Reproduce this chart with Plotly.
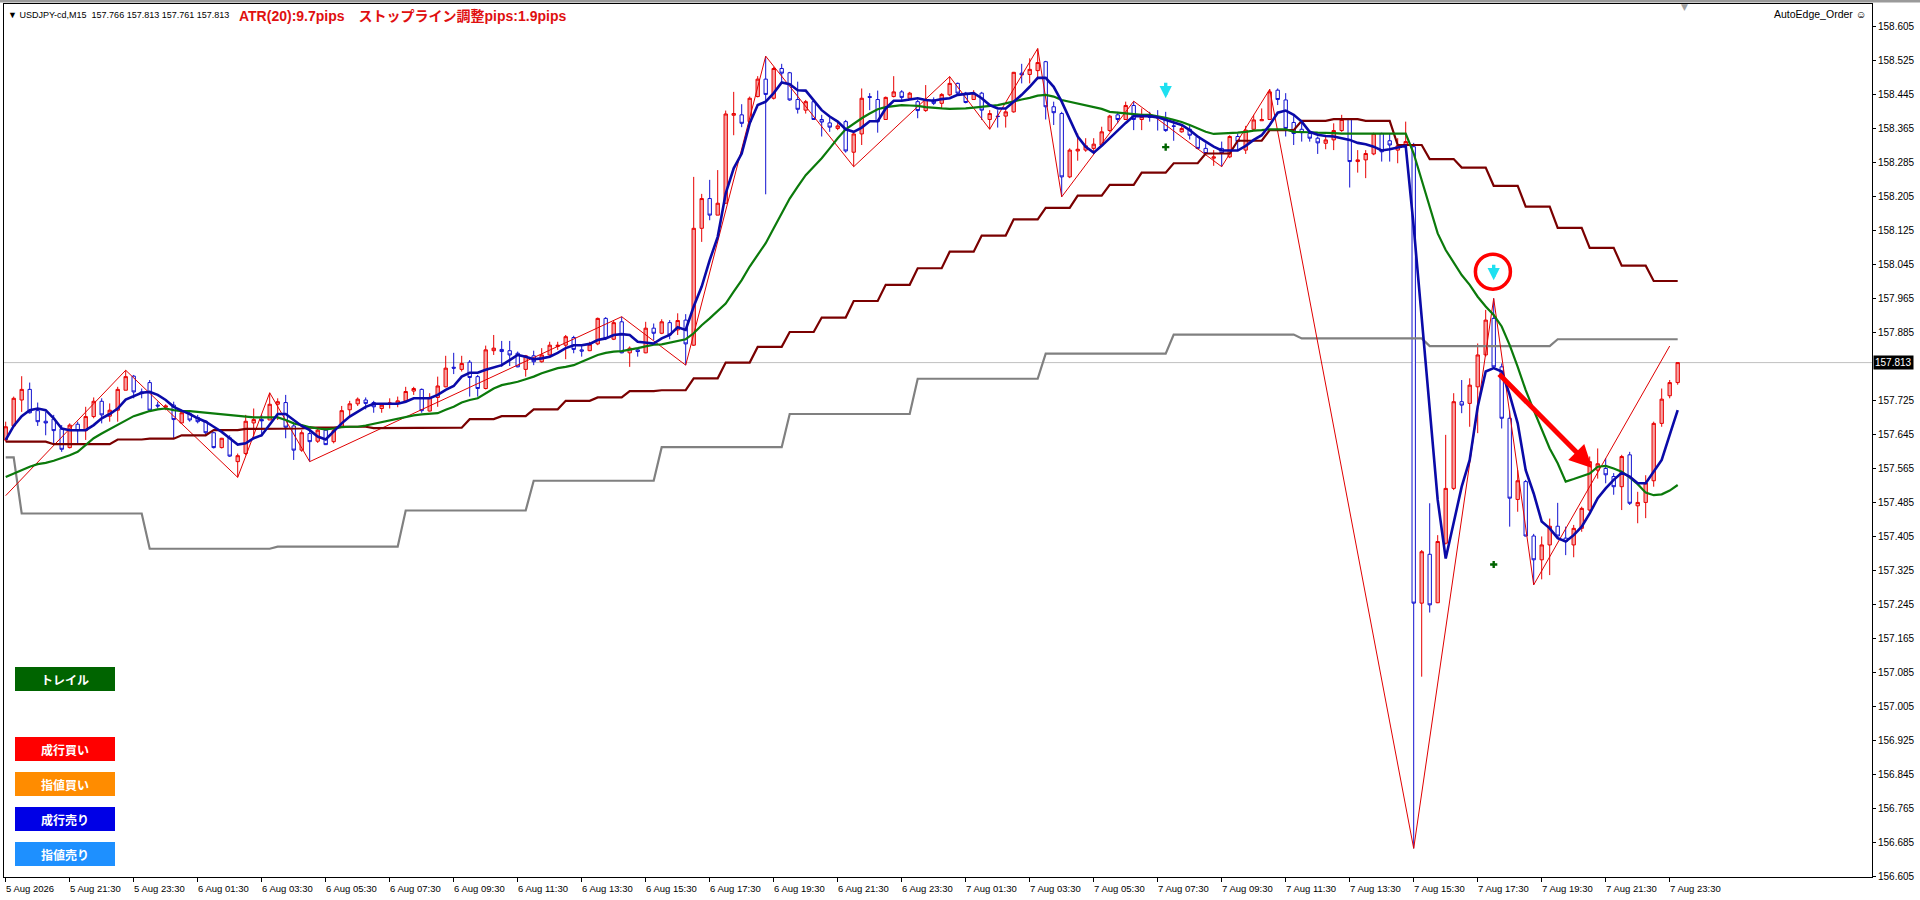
import plotly.graph_objects as go

# USDJPY M15, bar 0 = 5 Aug 2026 19:30, one bar every 15 minutes
opens = [
    157.631, 157.664, 157.725, 157.750, 157.700, 157.675, 157.680, 157.657, 157.613, 157.668,
    157.653, 157.686, 157.722, 157.687, 157.701, 157.748, 157.781, 157.744, 157.766, 157.713,
    157.708, 157.713, 157.671, 157.693, 157.684, 157.675, 157.648, 157.613, 157.636, 157.580,
    157.599, 157.671, 157.679, 157.678, 157.715, 157.719, 157.664, 157.607, 157.646, 157.628,
    157.654, 157.627, 157.662, 157.702, 157.716, 157.725, 157.719, 157.705, 157.716, 157.717,
    157.723, 157.746, 157.750, 157.699, 157.731, 157.756, 157.802, 157.797, 157.814, 157.780,
    157.752, 157.841, 157.844, 157.841, 157.835, 157.797, 157.829, 157.815, 157.831, 157.851,
    157.854, 157.872, 157.843, 157.841, 157.857, 157.917, 157.868, 157.909, 157.836, 157.843,
    157.836, 157.894, 157.882, 157.907, 157.890, 157.913, 157.854, 158.129, 158.199, 158.160,
    158.188, 158.395, 158.396, 158.380, 158.439, 158.480, 158.435, 158.505, 158.495, 158.432,
    158.407, 158.427, 158.385, 158.377, 158.364, 158.380, 158.308, 158.351, 158.439, 158.432,
    158.385, 158.439, 158.450, 158.435, 158.427, 158.406, 158.431, 158.423, 158.443, 158.470,
    158.447, 158.432, 158.447, 158.385, 158.393, 158.393, 158.403, 158.494, 158.491, 158.500,
    158.521, 158.415, 158.399, 158.250, 158.311, 158.313, 158.317, 158.325, 158.359, 158.396,
    158.385, 158.418, 158.385, 158.393, 158.392, 158.388, 158.370, 158.356, 158.362, 158.345,
    158.317, 158.294, 158.317, 158.297, 158.345, 158.313, 158.362, 158.382, 158.385, 158.454,
    158.431, 158.378, 158.362, 158.352, 158.341, 158.329, 158.337, 158.359, 158.385, 158.286,
    158.290, 158.304, 158.352, 158.335, 158.313, 158.323, 158.321, 157.247, 157.362, 157.248,
    157.388, 157.517, 157.721, 157.717, 157.756, 157.831, 157.917, 157.803, 157.682, 157.491,
    157.533, 157.405, 157.349, 157.384, 157.428, 157.400, 157.384, 157.423, 157.466, 157.560,
    157.564, 157.545, 157.521, 157.596, 157.476, 157.484, 157.535, 157.670, 157.735, 157.766,
]
highs = [
    157.674, 157.733, 157.781, 157.766, 157.719, 157.697, 157.690, 157.666, 157.670, 157.674,
    157.709, 157.731, 157.729, 157.717, 157.756, 157.795, 157.784, 157.752, 157.772, 157.721,
    157.715, 157.721, 157.701, 157.697, 157.690, 157.678, 157.650, 157.636, 157.642, 157.599,
    157.690, 157.705, 157.690, 157.742, 157.729, 157.737, 157.670, 157.654, 157.654, 157.658,
    157.658, 157.658, 157.711, 157.723, 157.731, 157.731, 157.723, 157.717, 157.729, 157.733,
    157.756, 157.756, 157.752, 157.741, 157.780, 157.829, 157.836, 157.829, 157.819, 157.784,
    157.853, 157.878, 157.864, 157.864, 157.839, 157.831, 157.841, 157.847, 157.862, 157.862,
    157.878, 157.876, 157.854, 157.862, 157.919, 157.920, 157.912, 157.921, 157.851, 157.847,
    157.909, 157.905, 157.915, 157.913, 157.929, 157.927, 158.250, 158.210, 158.243, 158.266,
    158.406, 158.450, 158.421, 158.439, 158.487, 158.534, 158.509, 158.516, 158.497, 158.474,
    158.431, 158.431, 158.396, 158.390, 158.380, 158.384, 158.354, 158.458, 158.447, 158.453,
    158.439, 158.487, 158.454, 158.450, 158.431, 158.466, 158.437, 158.447, 158.486, 158.472,
    158.450, 158.454, 158.450, 158.407, 158.407, 158.411, 158.497, 158.516, 158.529, 158.552,
    158.523, 158.427, 158.403, 158.317, 158.352, 158.341, 158.341, 158.368, 158.396, 158.403,
    158.427, 158.428, 158.411, 158.403, 158.407, 158.403, 158.384, 158.370, 158.372, 158.348,
    158.329, 158.313, 158.333, 158.348, 158.352, 158.370, 158.396, 158.411, 158.456, 158.458,
    158.447, 158.393, 158.382, 158.360, 158.345, 158.345, 158.376, 158.396, 158.385, 158.313,
    158.313, 158.354, 158.354, 158.352, 158.341, 158.380, 158.330, 157.372, 157.482, 157.407,
    157.643, 157.741, 157.772, 157.776, 157.858, 157.937, 157.964, 157.811, 157.700, 157.560,
    157.537, 157.410, 157.404, 157.446, 157.483, 157.427, 157.431, 157.474, 157.592, 157.611,
    157.588, 157.553, 157.596, 157.603, 157.509, 157.548, 157.674, 157.752, 157.772, 157.813,
]
lows = [
    157.627, 157.661, 157.697, 157.693, 157.664, 157.642, 157.623, 157.603, 157.611, 157.623,
    157.631, 157.682, 157.670, 157.674, 157.674, 157.748, 157.729, 157.729, 157.697, 157.705,
    157.701, 157.635, 157.670, 157.674, 157.670, 157.642, 157.611, 157.611, 157.591, 157.543,
    157.595, 157.639, 157.639, 157.678, 157.678, 157.635, 157.584, 157.603, 157.580, 157.624,
    157.619, 157.623, 157.661, 157.687, 157.711, 157.703, 157.695, 157.695, 157.705, 157.708,
    157.721, 157.737, 157.695, 157.698, 157.709, 157.755, 157.786, 157.792, 157.733, 157.733,
    157.750, 157.831, 157.803, 157.805, 157.802, 157.780, 157.807, 157.813, 157.829, 157.843,
    157.821, 157.835, 157.827, 157.840, 157.854, 157.866, 157.866, 157.835, 157.803, 157.827,
    157.835, 157.866, 157.880, 157.868, 157.878, 157.807, 157.852, 158.097, 158.148, 158.160,
    158.186, 158.348, 158.367, 158.376, 158.437, 158.209, 158.432, 158.470, 158.429, 158.399,
    158.399, 158.384, 158.345, 158.356, 158.360, 158.307, 158.274, 158.325, 158.407, 158.354,
    158.384, 158.437, 158.431, 158.432, 158.388, 158.403, 158.419, 158.411, 158.440, 158.443,
    158.423, 158.431, 158.384, 158.362, 158.366, 158.366, 158.401, 158.470, 158.470, 158.479,
    158.385, 158.372, 158.203, 158.247, 158.288, 158.309, 158.309, 158.323, 158.356, 158.376,
    158.384, 158.360, 158.360, 158.380, 158.359, 158.356, 158.335, 158.354, 158.338, 158.315,
    158.301, 158.276, 158.274, 158.294, 158.313, 158.304, 158.360, 158.382, 158.384, 158.419,
    158.345, 158.325, 158.333, 158.333, 158.304, 158.315, 158.313, 158.356, 158.225, 158.260,
    158.247, 158.301, 158.286, 158.286, 158.282, 158.321, 156.670, 157.074, 157.225, 157.247,
    157.385, 157.513, 157.694, 157.662, 157.647, 157.827, 157.799, 157.658, 157.427, 157.462,
    157.404, 157.290, 157.303, 157.313, 157.400, 157.360, 157.355, 157.415, 157.462, 157.540,
    157.529, 157.502, 157.466, 157.478, 157.435, 157.447, 157.521, 157.662, 157.729, 157.761,
]
closes = [
    157.662, 157.729, 157.750, 157.695, 157.674, 157.671, 157.653, 157.609, 157.666, 157.653,
    157.686, 157.722, 157.690, 157.701, 157.750, 157.780, 157.744, 157.740, 157.701, 157.711,
    157.711, 157.679, 157.695, 157.678, 157.674, 157.648, 157.613, 157.635, 157.593, 157.594,
    157.675, 157.679, 157.676, 157.715, 157.721, 157.661, 157.607, 157.648, 157.627, 157.654,
    157.620, 157.653, 157.700, 157.716, 157.727, 157.717, 157.709, 157.713, 157.718, 157.723,
    157.745, 157.752, 157.700, 157.731, 157.758, 157.800, 157.800, 157.811, 157.778, 157.752,
    157.843, 157.847, 157.839, 157.831, 157.803, 157.829, 157.815, 157.831, 157.854, 157.854,
    157.874, 157.844, 157.840, 157.856, 157.917, 157.870, 157.907, 157.836, 157.847, 157.839,
    157.894, 157.882, 157.909, 157.878, 157.912, 157.857, 158.129, 158.199, 158.160, 158.188,
    158.398, 158.399, 158.376, 158.435, 158.480, 158.444, 158.505, 158.494, 158.431, 158.409,
    158.427, 158.385, 158.379, 158.367, 158.370, 158.311, 158.351, 158.435, 158.437, 158.380,
    158.437, 158.450, 158.437, 158.447, 158.406, 158.432, 158.423, 158.444, 158.470, 158.447,
    158.425, 158.447, 158.407, 158.399, 158.392, 158.403, 158.496, 158.490, 158.503, 158.519,
    158.415, 158.401, 158.250, 158.313, 158.315, 158.323, 158.327, 158.356, 158.393, 158.385,
    158.418, 158.385, 158.392, 158.390, 158.391, 158.359, 158.369, 158.364, 158.348, 158.317,
    158.305, 158.297, 158.305, 158.345, 158.333, 158.360, 158.384, 158.385, 158.450, 158.432,
    158.364, 158.352, 158.354, 158.341, 158.330, 158.337, 158.359, 158.385, 158.286, 158.290,
    158.305, 158.352, 158.309, 158.325, 158.323, 158.333, 157.247, 157.368, 157.243, 157.392,
    157.517, 157.721, 157.713, 157.760, 157.831, 157.913, 157.803, 157.682, 157.494, 157.535,
    157.405, 157.349, 157.384, 157.428, 157.405, 157.392, 157.423, 157.470, 157.580, 157.575,
    157.549, 157.521, 157.592, 157.482, 157.484, 157.530, 157.670, 157.727, 157.766, 157.813,
]

# fast moving average (blue)
fast_ma = [
    157.631, 157.664, 157.687, 157.701, 157.705, 157.701, 157.682, 157.658, 157.654, 157.654,
    157.654, 157.666, 157.682, 157.692, 157.705, 157.726, 157.734, 157.742, 157.744, 157.737,
    157.725, 157.709, 157.700, 157.692, 157.682, 157.674, 157.662, 157.650, 157.635, 157.620,
    157.623, 157.635, 157.642, 157.666, 157.692, 157.692, 157.678, 157.664, 157.654, 157.639,
    157.632, 157.651, 157.670, 157.686, 157.698, 157.709, 157.716, 157.716, 157.716, 157.716,
    157.721, 157.729, 157.729, 157.729, 157.737, 157.749, 157.758, 157.780, 157.789, 157.789,
    157.796, 157.802, 157.807, 157.819, 157.831, 157.827, 157.821, 157.823, 157.827, 157.836,
    157.847, 157.854, 157.854, 157.857, 157.866, 157.870, 157.878, 157.880, 157.878, 157.862,
    157.860, 157.858, 157.870, 157.878, 157.896, 157.890, 157.945, 157.992, 158.054, 158.109,
    158.211, 158.270, 158.305, 158.376, 158.419, 158.427, 158.447, 158.472, 158.468, 158.454,
    158.453, 158.431, 158.407, 158.392, 158.380, 158.362, 158.356, 158.366, 158.381, 158.381,
    158.411, 158.429, 158.429, 158.432, 158.435, 158.431, 158.429, 158.433, 158.435, 158.443,
    158.445, 158.447, 158.435, 158.419, 158.411, 158.411, 158.427, 158.443, 158.462, 158.483,
    158.483, 158.462, 158.427, 158.384, 158.345, 158.321, 158.307, 158.323, 158.341, 158.360,
    158.377, 158.393, 158.393, 158.393, 158.390, 158.384, 158.377, 158.372, 158.360, 158.345,
    158.333, 158.321, 158.312, 158.312, 158.312, 158.323, 158.337, 158.348, 158.372, 158.401,
    158.406, 158.396, 158.380, 158.356, 158.349, 158.346, 158.345, 158.341, 158.337, 158.330,
    158.327, 158.321, 158.312, 158.315, 158.319, 158.323, 158.133, 157.913, 157.701, 157.490,
    157.352, 157.435, 157.521, 157.584, 157.709, 157.792, 157.800, 157.792, 157.737, 157.670,
    157.560, 157.505, 157.439, 157.423, 157.400, 157.392, 157.407, 157.427, 157.458, 157.494,
    157.517, 157.537, 157.554, 157.545, 157.529, 157.529, 157.556, 157.584, 157.643, 157.701,
]

# slow moving average (green)
slow_ma = [
    157.544, 157.552, 157.560, 157.568, 157.574, 157.577, 157.582, 157.588, 157.595, 157.603,
    157.619, 157.635, 157.646, 157.656, 157.666, 157.676, 157.687, 157.693, 157.699, 157.703,
    157.705, 157.701, 157.699, 157.699, 157.697, 157.696, 157.693, 157.692, 157.690, 157.687,
    157.686, 157.684, 157.684, 157.684, 157.684, 157.678, 157.670, 157.666, 157.661, 157.658,
    157.656, 157.658, 157.661, 157.662, 157.662, 157.665, 157.669, 157.673, 157.678, 157.682,
    157.686, 157.689, 157.691, 157.692, 157.694, 157.702, 157.709, 157.719, 157.725, 157.729,
    157.741, 157.752, 157.760, 157.764, 157.768, 157.774, 157.780, 157.788, 157.794, 157.800,
    157.803, 157.807, 157.815, 157.823, 157.831, 157.836, 157.839, 157.840, 157.843, 157.847,
    157.851, 157.855, 157.856, 157.860, 157.865, 157.868, 157.882, 157.901, 157.917, 157.935,
    157.952, 157.980, 158.007, 158.039, 158.066, 158.094, 158.129, 158.164, 158.199, 158.227,
    158.254, 158.274, 158.294, 158.317, 158.341, 158.362, 158.376, 158.388, 158.399, 158.409,
    158.414, 158.417, 158.419, 158.418, 158.417, 158.414, 158.412, 158.411, 158.410, 158.410,
    158.411, 158.413, 158.415, 158.417, 158.419, 158.423, 158.428, 158.432, 158.436, 158.441,
    158.443, 158.439, 158.431, 158.427, 158.423, 158.419, 158.415, 158.410, 158.403, 158.401,
    158.399, 158.398, 158.396, 158.396, 158.393, 158.389, 158.384, 158.379, 158.372, 158.364,
    158.356, 158.351, 158.352, 158.352, 158.354, 158.356, 158.359, 158.360, 158.362, 158.362,
    158.362, 158.356, 158.356, 158.355, 158.354, 158.354, 158.353, 158.352, 158.352, 158.352,
    158.352, 158.352, 158.352, 158.352, 158.352, 158.352, 158.305, 158.243, 158.176, 158.117,
    158.078, 158.047, 158.019, 157.996, 157.968, 157.945, 157.925, 157.898, 157.854, 157.803,
    157.748, 157.701, 157.654, 157.611, 157.576, 157.533, 157.539, 157.545, 157.552, 157.568,
    157.570, 157.564, 157.556, 157.543, 157.527, 157.507, 157.501, 157.503, 157.512, 157.525,
]

# hourly stop line (dark red), first entry = 19:00 hour
hourly_stop = [
    157.627, 157.627, 157.621, 157.621, 157.632, 157.634, 157.642, 157.654, 157.657, 157.658,
    157.660, 157.662, 157.659, 157.659, 157.660, 157.680, 157.687, 157.703, 157.723, 157.731,
    157.746, 157.748, 157.776, 157.813, 157.850, 157.885, 157.919, 157.958, 157.996, 158.035,
    158.074, 158.112, 158.150, 158.177, 158.206, 158.231, 158.260, 158.282, 158.305, 158.335,
    158.360, 158.382, 158.386, 158.382, 158.325, 158.292, 158.272, 158.229, 158.180, 158.130,
    158.083, 158.041, 158.005,
]

# 4-hour stop line (grey), first entry = 16:00 block
h4_stop = [
    157.590, 157.458, 157.375, 157.380, 157.465, 157.535, 157.614, 157.692, 157.775, 157.834,
    157.879, 157.870, 157.852, 157.868,
]

# zigzag pivots (bar, price)
zz_bars = [0, 15, 29, 33, 38, 77, 85, 95, 106, 118, 123, 129, 132, 141, 152, 158, 176, 186, 191, 208]
zz_prices = [157.500, 157.795, 157.543, 157.742, 157.580, 157.921, 157.807, 158.534, 158.274, 158.486,
             158.362, 158.552, 158.203, 158.428, 158.274, 158.456, 156.670, 157.964, 157.290, 157.852]

# sell signals: arrow tip price and dot price
sig_bars = [145, 186]
sig_arrow_prices = [158.435, 158.007]
sig_dot_prices = [158.320, 157.338]
circled_bar = 185.9
circled_price = 158.027
trend_arrow_from = (186.5, 157.789)
trend_arrow_to = (198.3, 157.565)

date_labels = [
    "5 Aug 2026", "5 Aug 21:30", "5 Aug 23:30", "6 Aug 01:30", "6 Aug 03:30", "6 Aug 05:30",
    "6 Aug 07:30", "6 Aug 09:30", "6 Aug 11:30", "6 Aug 13:30", "6 Aug 15:30", "6 Aug 17:30",
    "6 Aug 19:30", "6 Aug 21:30", "6 Aug 23:30", "7 Aug 01:30", "7 Aug 03:30", "7 Aug 05:30",
    "7 Aug 07:30", "7 Aug 09:30", "7 Aug 11:30", "7 Aug 13:30", "7 Aug 15:30", "7 Aug 17:30",
    "7 Aug 19:30", "7 Aug 21:30", "7 Aug 23:30",
]
price_labels = [
    "158.605", "158.525", "158.445", "158.365", "158.285", "158.205", "158.125", "158.045",
    "157.965", "157.885", "157.725", "157.645", "157.565", "157.485", "157.405", "157.325",
    "157.245", "157.165", "157.085", "157.005", "156.925", "156.845", "156.765", "156.685",
    "156.605",
]

button_labels = ["トレイル", "成行買い", "指値買い", "成行売り", "指値売り"]
button_colors = ["#006400", "#ff0000", "#ff8c00", "#0000e6", "#1e90ff"]

n = len(closes)
assert len(opens) == len(highs) == len(lows) == n == len(fast_ma) == len(slow_ma) == 210
bars = list(range(n))
hourly_line = [hourly_stop[(i + 2) // 4] for i in bars]
h4_line = [h4_stop[(i + 14) // 16] for i in bars]

# plot area in pixels: x 4..1872, y 4..877 ; 8 px per bar, 425 px per yen
W, H = 1920, 900
L, R, T, B = 4, 48, 4, 23
PW, PH = W - L - R, H - T - B
x_range = [-1.7 / 8, -1.7 / 8 + PW / 8]
y_top = 158.605 + 22 / 425
y_range = [y_top - PH / 425, y_top]


def px_x(x):
    return (x - L) / PW


def px_y(y):
    return 1 - (y - T) / PH


small = "Liberation Sans, Arial, sans-serif"

fig = go.Figure()

fig.add_trace(go.Candlestick(
    x=bars, open=opens, high=highs, low=lows, close=closes,
    increasing=dict(line=dict(color="#e80000", width=1), fillcolor="#f6a3a3"),
    decreasing=dict(line=dict(color="#1212d0", width=1), fillcolor="#ffffff"),
    whiskerwidth=0, showlegend=False, hoverinfo="skip",
))

fig.add_trace(go.Scatter(x=bars, y=h4_line, mode="lines",
                         line=dict(color="#808080", width=2.2), showlegend=False, hoverinfo="skip"))
fig.add_trace(go.Scatter(x=zz_bars, y=zz_prices, mode="lines",
                         line=dict(color="#e00000", width=1), showlegend=False, hoverinfo="skip"))
fig.add_trace(go.Scatter(x=bars, y=hourly_line, mode="lines",
                         line=dict(color="#7a0000", width=2.2), showlegend=False, hoverinfo="skip"))
fig.add_trace(go.Scatter(x=bars, y=slow_ma, mode="lines",
                         line=dict(color="#0b7a0b", width=2.2), showlegend=False, hoverinfo="skip"))
fig.add_trace(go.Scatter(x=bars, y=fast_ma, mode="lines",
                         line=dict(color="#0a0aa8", width=2.6), showlegend=False, hoverinfo="skip"))
fig.add_trace(go.Scatter(x=sig_bars, y=sig_dot_prices, mode="markers",
                         marker=dict(symbol="cross", size=6, color="#006400"),
                         showlegend=False, hoverinfo="skip"))

shapes = []
annotations = []

# current price line
shapes.append(dict(type="line", xref="paper", x0=0, x1=1, yref="y", y0=closes[-1], y1=closes[-1],
                   line=dict(color="#c0c0c0", width=1), layer="below"))

# red circle around the second signal
rx, ry = 17.5 / 8, 17.5 / 425
shapes.append(dict(type="circle", xref="x", yref="y",
                   x0=circled_bar - rx, x1=circled_bar + rx,
                   y0=circled_price - ry, y1=circled_price + ry,
                   line=dict(color="#ff0000", width=3.5)))

# cyan sell arrows
for b, p in zip(sig_bars, sig_arrow_prices):
    annotations.append(dict(x=b, y=p, xref="x", yref="y", text="", showarrow=True,
                            ax=0, ay=-17, arrowhead=2, arrowsize=0.72, arrowwidth=3.4,
                            arrowcolor="#1ee0f0"))

# red trend arrow
annotations.append(dict(x=trend_arrow_to[0], y=trend_arrow_to[1], xref="x", yref="y",
                        ax=trend_arrow_from[0], ay=trend_arrow_from[1], axref="x", ayref="y",
                        text="", showarrow=True, arrowhead=2, arrowsize=0.9, arrowwidth=5,
                        arrowcolor="#ff0000"))

# time labels under the axis
for k, lab in enumerate(date_labels):
    annotations.append(dict(x=k * 8, y=px_y(881), xref="x", yref="paper", text=lab,
                            showarrow=False, xanchor="left", yanchor="top", xshift=-2,
                            font=dict(family=small, size=9.5, color="black")))

# current price box on the price scale
annotations.append(dict(x=1, y=closes[-1], xref="paper", yref="y", text=f"{closes[-1]:.3f}",
                        showarrow=False, xanchor="left", yanchor="middle", bgcolor="#000000",
                        borderpad=1, xshift=1, font=dict(family=small, size=10, color="white")))

# header texts
annotations.append(dict(x=px_x(6), y=px_y(15), xref="paper", yref="paper",
                        text=f"▼ USDJPY-cd,M15  {opens[-1]:.3f} {highs[-1]:.3f} {lows[-1]:.3f} {closes[-1]:.3f}",
                        showarrow=False, xanchor="left", yanchor="middle",
                        font=dict(family=small, size=9, color="black")))
annotations.append(dict(x=px_x(237), y=px_y(16), xref="paper", yref="paper",
                        text="<b>ATR(20):9.7pips\u3000ストップライン調整pips:1.9pips</b>",
                        showarrow=False, xanchor="left", yanchor="middle",
                        font=dict(family="Liberation Sans, Noto Sans CJK JP", size=14, color="#e01010")))
annotations.append(dict(x=px_x(1868), y=px_y(14), xref="paper", yref="paper",
                        text="AutoEdge_Order ☺", showarrow=False, xanchor="right", yanchor="middle",
                        font=dict(family="Liberation Sans, DejaVu Sans", size=10.5, color="black")))
annotations.append(dict(x=px_x(1684), y=px_y(7), xref="paper", yref="paper", text="▼",
                        showarrow=False, xanchor="center", yanchor="middle",
                        font=dict(family="DejaVu Sans", size=9, color="#a0a0a0")))

# order buttons
button_tops = [667, 737, 772, 807, 842]
for lab, col, top in zip(button_labels, button_colors, button_tops):
    shapes.append(dict(type="rect", xref="paper", yref="paper",
                       x0=px_x(15), x1=px_x(115), y0=px_y(top + 24), y1=px_y(top),
                       fillcolor=col, line=dict(width=0)))
    annotations.append(dict(x=px_x(65), y=px_y(top + 12), xref="paper", yref="paper",
                            text=f"<b>{lab}</b>", showarrow=False, xanchor="center", yanchor="middle",
                            font=dict(family="Noto Sans CJK JP", size=12, color="white")))

# window top border
shapes.append(dict(type="line", xref="paper", yref="paper", x0=-0.01, x1=1.03,
                   y0=px_y(1), y1=px_y(1), line=dict(color="#9a9a9a", width=3)))

fig.update_layout(
    width=W, height=H,
    margin=dict(l=L, r=R, t=T, b=B),
    paper_bgcolor="white", plot_bgcolor="white",
    boxgap=0.4,
    showlegend=False,
    shapes=shapes, annotations=annotations,
    xaxis=dict(range=x_range, showgrid=False, zeroline=False, rangeslider=dict(visible=False),
               showline=True, linecolor="black", linewidth=1, mirror=True,
               ticks="outside", ticklen=4, tickcolor="black",
               tickvals=[k * 8 for k in range(len(date_labels))], showticklabels=False),
    yaxis=dict(range=y_range, side="right", showgrid=False, zeroline=False,
               showline=True, linecolor="black", linewidth=1, mirror=True,
               ticks="outside", ticklen=3, tickcolor="black",
               tickvals=[float(s) for s in price_labels], ticktext=price_labels,
               tickfont=dict(family=small, size=10, color="black")),
)

fig.write_html("out.html", config={"displayModeBar": False},
               post_script="document.body.style.margin='0';document.body.style.overflow='hidden';")
